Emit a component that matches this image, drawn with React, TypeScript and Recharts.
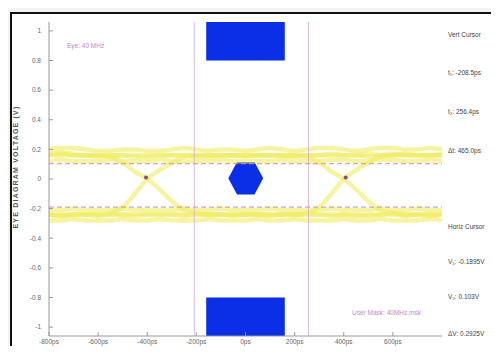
import React from 'react';
import {
  ComposedChart, Line, XAxis, YAxis, ReferenceLine, ReferenceArea, ReferenceDot,
} from 'recharts';

// sample instants (ps)
const times = [
  -800, -750, -700, -650, -600, -550, -500, -450, -400, -350, -300,
  -250, -200, -150, -100, -50, 0, 50, 100, 150, 200, 250,
  300, 350, 400, 450, 500, 550, 600, 650, 700, 750, 800,
];

// eye traces (V)
const hiTop = [0.2, 0.21, 0.21, 0.2, 0.19, 0.19, 0.2, 0.2, 0.19, 0.19, 0.2, 0.21, 0.2, 0.19, 0.2, 0.2, 0.19, 0.2, 0.21, 0.2, 0.19, 0.2, 0.21, 0.21, 0.2, 0.19, 0.2, 0.21, 0.21, 0.2, 0.2, 0.21, 0.2];
const hiMid = [0.16, 0.17, 0.16, 0.16, 0.15, 0.16, 0.16, 0.15, 0.15, 0.16, 0.16, 0.16, 0.15, 0.15, 0.16, 0.16, 0.15, 0.16, 0.16, 0.16, 0.15, 0.16, 0.16, 0.17, 0.16, 0.16, 0.15, 0.16, 0.17, 0.16, 0.16, 0.16, 0.17];
const hiLow = [0.12, 0.13, 0.12, 0.12, 0.12, 0.13, 0.12, 0.12, 0.12, 0.13, 0.12, 0.12, 0.12, 0.12, 0.13, 0.12, 0.12, 0.12, 0.12, 0.13, 0.12, 0.12, 0.12, 0.13, 0.13, 0.12, 0.12, 0.13, 0.13, 0.12, 0.12, 0.13, 0.12];
const loTop = [-0.21, -0.21, -0.2, -0.21, -0.21, -0.21, -0.2, -0.21, -0.21, -0.21, -0.21, -0.2, -0.21, -0.21, -0.2, -0.21, -0.21, -0.21, -0.2, -0.21, -0.21, -0.21, -0.21, -0.2, -0.21, -0.21, -0.21, -0.2, -0.21, -0.21, -0.2, -0.21, -0.21];
const loMid = [-0.24, -0.25, -0.24, -0.24, -0.25, -0.24, -0.24, -0.25, -0.24, -0.24, -0.24, -0.25, -0.24, -0.24, -0.24, -0.25, -0.24, -0.24, -0.25, -0.24, -0.24, -0.24, -0.24, -0.25, -0.24, -0.24, -0.25, -0.24, -0.24, -0.25, -0.24, -0.24, -0.24];
const loBot = [-0.28, -0.28, -0.27, -0.28, -0.28, -0.28, -0.27, -0.28, -0.28, -0.27, -0.28, -0.28, -0.28, -0.27, -0.28, -0.28, -0.28, -0.27, -0.28, -0.28, -0.27, -0.28, -0.28, -0.28, -0.27, -0.28, -0.28, -0.27, -0.28, -0.28, -0.28, -0.27, -0.28];
const fallLeft = [0.17, 0.18, 0.17, 0.16, 0.16, 0.15, 0.11, 0.05, 0.0, -0.07, -0.15, -0.21, -0.23, -0.24, -0.24, -0.24, -0.24, -0.24, -0.24, -0.24, -0.24, -0.24, -0.24, -0.24, -0.24, -0.25, -0.24, -0.24, -0.23, -0.24, -0.24, -0.24, -0.24];
const riseLeft = [-0.24, -0.25, -0.24, -0.24, -0.24, -0.23, -0.19, -0.1, 0.0, 0.06, 0.11, 0.15, 0.16, 0.16, 0.16, 0.16, 0.16, 0.16, 0.16, 0.16, 0.16, 0.16, 0.16, 0.16, 0.16, 0.16, 0.17, 0.16, 0.16, 0.16, 0.16, 0.16, 0.16];
const fallRight = [0.16, 0.16, 0.16, 0.16, 0.16, 0.16, 0.16, 0.16, 0.16, 0.16, 0.16, 0.16, 0.16, 0.16, 0.16, 0.16, 0.16, 0.16, 0.16, 0.16, 0.16, 0.15, 0.11, 0.05, 0.0, -0.07, -0.15, -0.21, -0.23, -0.24, -0.24, -0.25, -0.24];
const riseRight = [-0.24, -0.24, -0.24, -0.24, -0.24, -0.24, -0.24, -0.24, -0.24, -0.24, -0.24, -0.24, -0.24, -0.24, -0.24, -0.24, -0.24, -0.24, -0.24, -0.24, -0.24, -0.23, -0.19, -0.1, 0.0, 0.06, 0.11, 0.15, 0.16, 0.17, 0.16, 0.16, 0.16];

const traceKeys = ['hiTop', 'hiMid', 'hiLow', 'loTop', 'loMid', 'loBot', 'fallLeft', 'riseLeft', 'fallRight', 'riseRight'];
const traceValues = [hiTop, hiMid, hiLow, loTop, loMid, loBot, fallLeft, riseLeft, fallRight, riseRight];

const xTicks = [-800, -600, -400, -200, 0, 200, 400, 600];
const yTicks = [1, 0.8, 0.6, 0.4, 0.2, 0, -0.2, -0.4, -0.6, -0.8, -1];

// cursors
const vertCursors = [-208.5, 256.4];
const horizCursors = [-0.1895, 0.103];
const crossings = [[-405, 0.01], [408, 0.01]];

// mask regions [x1, x2, y1, y2]
const maskTop = [-160, 160, 0.8, 1.06];
const maskBottom = [-160, 160, -1.06, -0.8];
const maskCenter = [-70, 72, -0.105, 0.115];

const vertText = ['Vert Cursor', 't\u2081: -208.5ps', 't\u2082: 256.4ps', '\u0394t: 465.0ps'];
const horizText = ['Horiz Cursor', 'V\u2081: -0.1895V', 'V\u2082: 0.103V', '\u0394V: 0.2925V'];

const data = times.map((t, i) => {
  const row: Record<string, number> = { t };
  traceKeys.forEach((k, j) => { row[k] = traceValues[j][i]; });
  return row;
});

const Hexagon = (props: any) => {
  const { x, y, width, height } = props;
  const q = width * 0.25;
  const pts = [
    [x + q, y], [x + width - q, y], [x + width, y + height / 2],
    [x + width - q, y + height], [x + q, y + height], [x, y + height / 2],
  ].map(p => p.join(',')).join(' ');
  return <polygon points={pts} fill="#0a2fe6" />;
};

const font = '"Liberation Sans", Arial, sans-serif';
const tickStyle = { fontSize: 6.5, fill: '#666', fontFamily: font };

export default function App() {
  return (
    <div style={{ position: 'relative', width: 499, height: 354, margin: -8, background: '#f3f3f3', overflow: 'hidden', fontFamily: font }}>
      <div style={{ position: 'absolute', left: 10, top: 12, right: -4, bottom: -4, background: '#fff', borderLeft: '2px solid #111', borderTop: '2px solid #111' }} />
      <div style={{ position: 'absolute', left: 0, top: 0 }}>
        <ComposedChart width={499} height={354} data={data} margin={{ top: 22, right: 57, bottom: 0, left: 0 }}>
          <XAxis dataKey="t" type="number" domain={[-800, 800]} ticks={xTicks} allowDataOverflow
            tickFormatter={(v: number) => `${v}ps`} tick={tickStyle} height={18}
            stroke="#999" tickSize={-4} tickMargin={7} />
          <XAxis xAxisId="top" orientation="top" dataKey="t" type="number" domain={[-800, 800]} ticks={xTicks}
            tickFormatter={() => ''} height={0} stroke="#999" tickSize={-4} />
          <YAxis type="number" domain={[-1.06, 1.06]} ticks={yTicks} allowDataOverflow width={49}
            tick={tickStyle} stroke="#999" tickSize={-4} tickMargin={12} />
          <YAxis yAxisId="right" orientation="right" type="number" domain={[-1.06, 1.06]} ticks={yTicks}
            tickFormatter={() => ''} width={0} stroke="#999" tickSize={-4} />
          {traceKeys.map(k => (
            <Line key={k} dataKey={k} type="monotone" stroke="#f0ec62" strokeOpacity={0.6}
              strokeWidth={4.5} dot={false} isAnimationActive={false} />
          ))}
          {vertCursors.map(v => (
            <ReferenceLine key={v} x={v} stroke="#d6a8cf" strokeWidth={0.8} />
          ))}
          {horizCursors.map(v => (
            <ReferenceLine key={v} y={v} stroke="#c98bbd" strokeWidth={1} strokeDasharray="5 3" />
          ))}
          <ReferenceArea x1={maskTop[0]} x2={maskTop[1]} y1={maskTop[2]} y2={maskTop[3]} fill="#0a2fe6" fillOpacity={1} stroke="none" />
          <ReferenceArea x1={maskBottom[0]} x2={maskBottom[1]} y1={maskBottom[2]} y2={maskBottom[3]} fill="#0a2fe6" fillOpacity={1} stroke="none" />
          <ReferenceArea x1={maskCenter[0]} x2={maskCenter[1]} y1={maskCenter[2]} y2={maskCenter[3]} shape={<Hexagon />} />
          {crossings.map(([cx, cy]) => (
            <ReferenceDot key={cx} x={cx} y={cy} r={2} fill="#8a4c86" stroke="none" />
          ))}
        </ComposedChart>
      </div>
      <div style={{ position: 'absolute', left: 15, top: 167, transform: 'translate(-50%, -50%) rotate(-90deg)', whiteSpace: 'nowrap', fontSize: 7, fontWeight: 'bold', color: '#555', letterSpacing: 1.2 }}>
        EYE DIAGRAM VOLTAGE (V)
      </div>
      <div style={{ position: 'absolute', left: 67, top: 42, fontSize: 6.5, color: '#c58ac0' }}>Eye: 40 MHz</div>
      <div style={{ position: 'absolute', left: 352, top: 309, fontSize: 6.5, color: '#c58ac0' }}>User Mask: 40MHz.msk</div>
      {vertText.concat(horizText).map((s, i) => (
        <div key={s} style={{ position: 'absolute', left: 448, top: [31, 69, 108, 147, 223, 258, 293, 330][i], fontSize: 6.5, color: '#444', whiteSpace: 'nowrap' }}>{s}</div>
      ))}
    </div>
  );
}
